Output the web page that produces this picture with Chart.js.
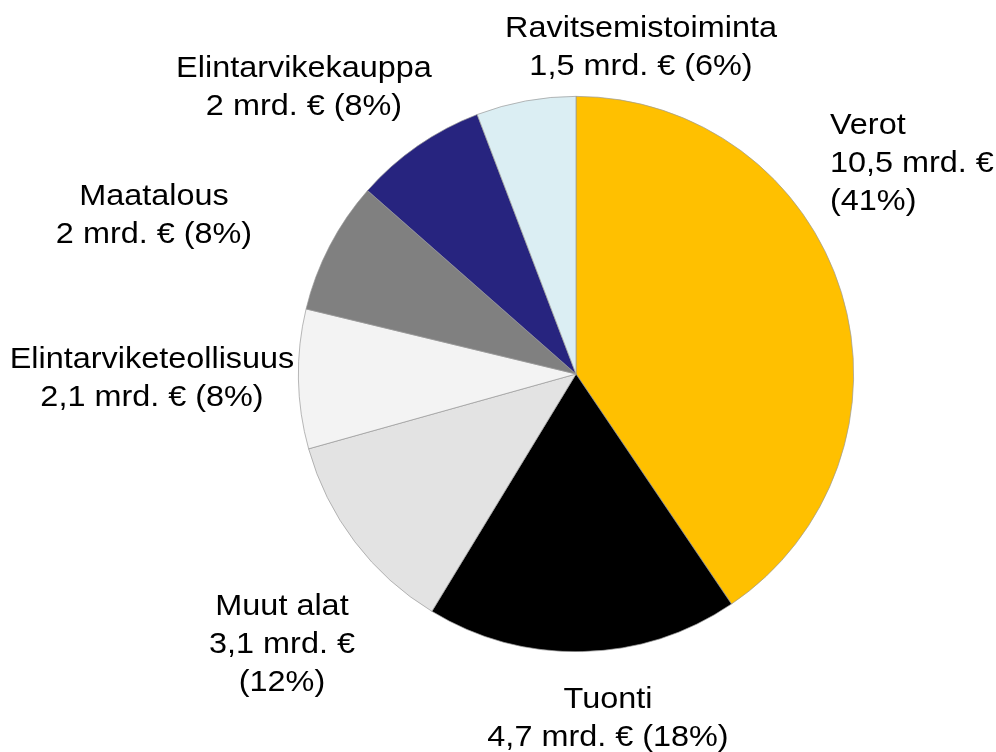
<!DOCTYPE html>
<html>
<head>
<meta charset="utf-8">
<script src="https://cdn.jsdelivr.net/npm/chart.js@4"></script>
<style>
  html, body { margin: 0; padding: 0; background: #fff; }
  #wrap { width: 996px; height: 752px; }
</style>
</head>
<body>
<div id="wrap"><canvas id="pie" width="996" height="752"></canvas></div>
<script>
// Data (mrd. €)
const categories = ['Verot', 'Tuonti', 'Muut alat', 'Elintarviketeollisuus', 'Maatalous', 'Elintarvikekauppa', 'Ravitsemistoiminta'];
const values = [10.5, 4.7, 3.1, 2.1, 2, 2, 1.5];
const sliceColors = ['#FFC000', '#000000', '#E3E3E3', '#F3F3F3', '#808080', '#27247F', '#DBEEF3'];

// Label placement: x, first baseline, alignment, line layout
// layout 'a' = name / value (pct) ; 'b' = name / value / (pct)
const labelPlacement = [
    { x: 830, y: 134, align: 'left', layout: 'b' },
    { x: 608, y: 708, align: 'center', layout: 'a' },
    { x: 282, y: 615, align: 'center', layout: 'b' },
    { x: 152, y: 368, align: 'center', layout: 'a' },
    { x: 154, y: 205, align: 'center', layout: 'a' },
    { x: 304, y: 77, align: 'center', layout: 'a' },
    { x: 641, y: 37, align: 'center', layout: 'a' }
];

const total = values.reduce((s, v) => s + v, 0);

function labelLines(i) {
    const val = String(values[i]).replace('.', ',') + ' mrd. €';
    const pct = '(' + Math.round(values[i] / total * 100) + '%)';
    if (labelPlacement[i].layout === 'b') return [categories[i], val, pct];
    return [categories[i], val + ' ' + pct];
}

// draws the slice labels as plain text
const sliceLabels = {
    id: 'sliceLabels',
    afterDraw(chart) {
        const ctx = chart.ctx;
        const lineH = 38;
        const sx = 1.08;
        ctx.save();
        ctx.fillStyle = '#000';
        ctx.font = '30px "Liberation Sans", Arial, sans-serif';
        ctx.textBaseline = 'alphabetic';
        categories.forEach((c, i) => {
            const p = labelPlacement[i];
            ctx.textAlign = p.align;
            labelLines(i).forEach((line, k) => {
                ctx.save();
                ctx.translate(p.x, p.y + k * lineH);
                ctx.scale(sx, 1);
                ctx.fillText(line, 0, 0);
                ctx.restore();
            });
        });
        ctx.restore();
    }
};

new Chart(document.getElementById('pie'), {
    type: 'pie',
    data: {
        labels: categories,
        datasets: [{
            data: values,
            backgroundColor: sliceColors,
            borderColor: '#9a9a9a',
            borderWidth: 0.7,
            hoverOffset: 0
        }]
    },
    options: {
        responsive: false,
        animation: false,
        events: [],
        layout: { padding: { left: 298, right: 142, top: 96, bottom: 100 } },
        plugins: {
            legend: { display: false },
            tooltip: { enabled: false }
        }
    },
    plugins: [sliceLabels]
});
</script>
</body>
</html>
